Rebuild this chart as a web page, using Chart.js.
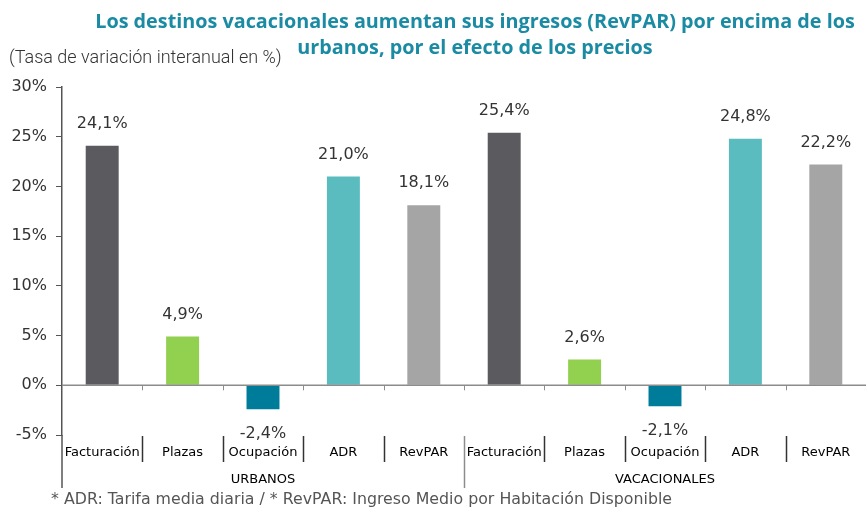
<!DOCTYPE html>
<html>
<head>
<meta charset="utf-8">
<script src="https://cdn.jsdelivr.net/npm/chart.js@4/dist/chart.umd.min.js"></script>
<style>
  body { margin: 0; background: #fff; }
  #wrap { width: 866px; height: 509px; position: relative; }
</style>
</head>
<body>
<div id="wrap"><canvas id="revpar"></canvas></div>
<script>
// categorias y valores (% variacion interanual)
const categories = ["Facturación", "Plazas", "Ocupación", "ADR", "RevPAR",
                    "Facturación", "Plazas", "Ocupación", "ADR", "RevPAR"];
const groups = ["URBANOS", "VACACIONALES"];
const values = [24.1, 4.9, -2.4, 21.0, 18.1, 25.4, 2.6, -2.1, 24.8, 22.2];
const barColors = ["#5b5a5f", "#92d050", "#007c9b", "#5bbcbf", "#a5a5a5",
                   "#5b5a5f", "#92d050", "#007c9b", "#5bbcbf", "#a5a5a5"];
const titleLines = ["Los destinos vacacionales aumentan sus ingresos (RevPAR) por encima de los",
                    "urbanos, por el efecto de los precios"];
const yTitle = "(Tasa de variación interanual en %)";
const footnote = "* ADR: Tarifa media diaria / * RevPAR: Ingreso Medio por Habitación Disponible";

const fmt = (v) => v.toFixed(1).replace(".", ",") + "%";

const extras = {
  id: "extras",
  afterDraw(chart) {
    const ctx = chart.ctx;
    const x = chart.scales.x;
    const y = chart.scales.y;
    const area = chart.chartArea;
    const y0 = y.getPixelForValue(0);
    ctx.save();

    // titulo
    ctx.fillStyle = "#1a8ba3";
    ctx.font = "bold 19.8px 'Open Sans'";
    ctx.textAlign = "center";
    ctx.textBaseline = "middle";
    ctx.fillText(titleLines[0], 475, 22);
    ctx.fillText(titleLines[1], 475, 48);

    // titulo eje y
    ctx.fillStyle = "#333";
    ctx.font = "300 18px Roboto";
    ctx.textAlign = "left";
    ctx.fillText(yTitle, 9, 58);

    // linea del cero
    ctx.strokeStyle = "#8c8c8c";
    ctx.lineWidth = 1.5;
    ctx.beginPath();
    ctx.moveTo(area.left, y0);
    ctx.lineTo(area.right, y0);
    ctx.stroke();

    // marcas y separadores
    const step = (area.right - area.left) / categories.length;
    for (let i = 1; i < categories.length; i++) {
      const bx = Math.round(area.left + i * step) + 0.5;
      ctx.strokeStyle = "#8c8c8c";
      ctx.lineWidth = 1;
      ctx.beginPath();
      ctx.moveTo(bx, y0);
      ctx.lineTo(bx, y0 + 5);
      ctx.stroke();
      ctx.strokeStyle = i === 5 ? "#8c8c8c" : "#333";
      ctx.lineWidth = 1.5;
      ctx.beginPath();
      ctx.moveTo(bx, area.bottom + 1);
      ctx.lineTo(bx, i === 5 ? area.bottom + 53 : area.bottom + 27);
      ctx.stroke();
    }
    // eje y prolongado
    ctx.strokeStyle = "#555";
    ctx.lineWidth = 1.5;
    ctx.beginPath();
    ctx.moveTo(area.left, area.bottom);
    ctx.lineTo(area.left, area.bottom + 53);
    ctx.stroke();

    // etiquetas de categoria
    ctx.fillStyle = "#000";
    ctx.font = "13px 'DejaVu Sans'";
    ctx.textAlign = "center";
    categories.forEach((c, i) => {
      ctx.fillText(c, x.getPixelForValue(i), area.bottom + 18);
    });
    groups.forEach((g, gi) => {
      const cx = (x.getPixelForValue(gi * 5) + x.getPixelForValue(gi * 5 + 4)) / 2;
      ctx.fillText(g, cx, area.bottom + 45);
    });

    // etiquetas de datos
    ctx.fillStyle = "#333";
    ctx.font = "16px 'DejaVu Sans'";
    const meta = chart.getDatasetMeta(0);
    meta.data.forEach((bar, i) => {
      const v = values[i];
      ctx.fillText(fmt(v), bar.x, v >= 0 ? bar.y - 22 : bar.y + 25);
    });

    // nota
    ctx.fillStyle = "#555";
    ctx.font = "15.8px 'DejaVu Sans'";
    ctx.textAlign = "left";
    ctx.fillText(footnote, 51, 500);
    ctx.restore();
  }
};

const config_revpar = {
  type: "bar",
  data: {
    labels: categories,
    datasets: [
      {
        data: values,
        backgroundColor: barColors,
        barPercentage: 0.41,
        categoryPercentage: 1,
      },
    ],
  },
  options: {
    responsive: true,
    maintainAspectRatio: false,
    animation: false,
    layout: { padding: { top: 87, bottom: 74, left: 0, right: 0 } },
    scales: {
      x: { display: false },
      y: {
        min: -5,
        max: 30,
        afterFit: (s) => { s.width = 62; },
        ticks: {
          stepSize: 5,
          padding: 9,
          color: "#333",
          font: { family: "DejaVu Sans", size: 16 },
          callback: (v) => v + "%",
        },
        grid: { drawOnChartArea: false, tickLength: 6, color: "#555" },
        border: { color: "#555", width: 1.5 },
      },
    },
    plugins: {
      legend: { display: false },
      tooltip: { enabled: false },
    },
  },
  plugins: [extras],
};

const revpar = new Chart(document.getElementById("revpar"), config_revpar);
</script>
</body>
</html>
